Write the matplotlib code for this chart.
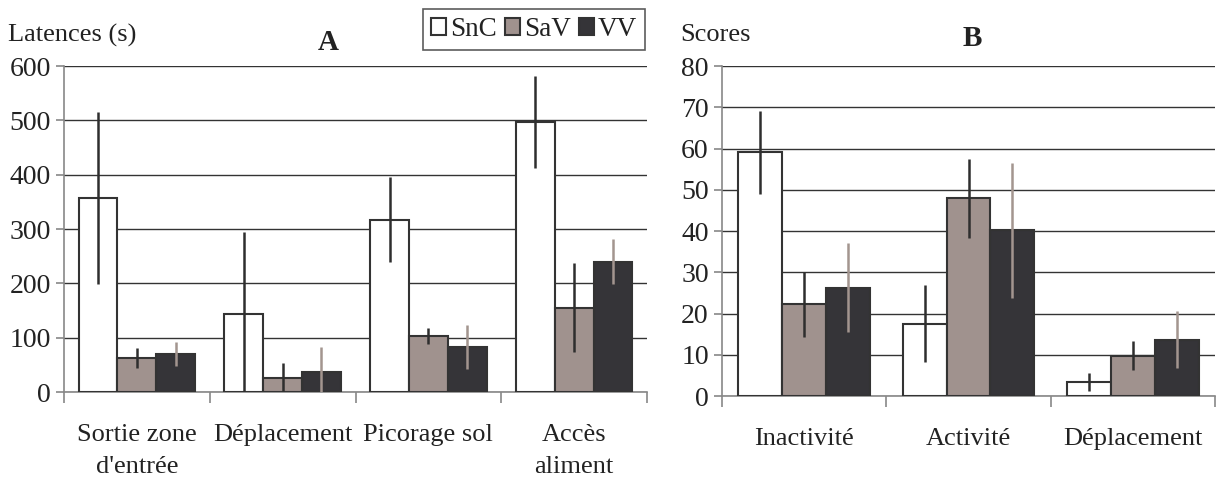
import numpy as np
import matplotlib.pyplot as plt

plt.rcParams['font.family'] = ['Liberation Serif', 'DejaVu Serif']

groups = ["SnC", "SaV", "VV"]

# panel A : latences (s)
cats_a = ["Sortie zone\nd'entrée", "Déplacement", "Picorage sol", "Accès\naliment"]
snc_a = [357, 144, 317, 497]
sav_a = [63, 26, 103, 155]
vv_a = [70, 37, 83, 240]
snc_a_err = [159, 150, 78, 85]
sav_a_err = [18, 27, 14, 82]
vv_a_err = [22, 46, 40, 42]

# panel B : scores
cats_b = ["Inactivité", "Activité", "Déplacement"]
snc_b = [59.1, 17.5, 3.4]
sav_b = [22.2, 47.9, 9.8]
vv_b = [26.3, 40.2, 13.6]
snc_b_err = [10.1, 9.3, 2.1]
sav_b_err = [7.9, 9.5, 3.5]
vv_b_err = [10.9, 16.4, 6.9]

fills = ['white', '#a0928e', '#353438']
err_cols = ['#2e2e2e', '#2e2e2e', '#a3958f']
edge = '#333333'
txt = '#222222'
w = 0.8 / 3

W, H = 1216, 478
fig = plt.figure(figsize=(W / 100, H / 100), dpi=100)
axA = fig.add_axes([64 / W, 1 - 392 / H, 583 / W, 326 / H])
axB = fig.add_axes([722 / W, 1 - 396 / H, 493 / W, 330 / H])


def draw(ax, cats, vals, errs, ymax, step):
    x = np.arange(len(cats))
    handles = []
    for i, (v, e) in enumerate(zip(vals, errs)):
        b = ax.bar(x + (i - 1) * w, v, w, color=fills[i], edgecolor=edge, linewidth=1.5,
                   yerr=e, error_kw=dict(ecolor=err_cols[i], elinewidth=1.8, capsize=0),
                   label=groups[i], zorder=3)
        handles.append(b)
    ax.set_xlim(-0.5, len(cats) - 0.5)
    ax.set_ylim(0, ymax)
    ax.set_yticks(np.arange(0, ymax + 1, step))
    ax.yaxis.grid(True, color='#333333', linewidth=1)
    ax.set_axisbelow(True)
    ax.set_xticks(np.arange(len(cats) + 1) - 0.5)
    ax.set_xticklabels([])
    ax.set_xticks(x, cats, minor=True)
    ax.tick_params(axis='x', which='major', length=8, color='#888888', width=1.2)
    ax.tick_params(axis='x', which='minor', length=0, pad=23, labelsize=19, labelcolor=txt)
    ax.tick_params(axis='y', length=6, color='#888888', width=1.2, labelsize=20, labelcolor=txt)
    for s in ['top', 'right']:
        ax.spines[s].set_visible(False)
    for s in ['left', 'bottom']:
        ax.spines[s].set_color('#888888')
        ax.spines[s].set_linewidth(1.2)
    for lab in ax.get_xticklabels(minor=True):
        lab.set_linespacing(1.6)
        lab.set_verticalalignment('top')
    return handles


hA = draw(axA, cats_a, [snc_a, sav_a, vv_a], [snc_a_err, sav_a_err, vv_a_err], 600, 100)
draw(axB, cats_b, [snc_b, sav_b, vv_b], [snc_b_err, sav_b_err, vv_b_err], 80, 10)

fig.text(8 / W, 1 - 35 / H, "Latences (s)", fontsize=19, color=txt, va='center')
fig.text(328 / W, 1 - 42 / H, "A", fontsize=21, fontweight='bold', color=txt, ha='center', va='center')
fig.text(680 / W, 1 - 35 / H, "Scores", fontsize=19, color=txt, va='center')
fig.text(972 / W, 1 - 38 / H, "B", fontsize=21, fontweight='bold', color=txt, ha='center', va='center')

leg = fig.legend(handles=hA, labels=groups, loc='upper right', bbox_to_anchor=(645 / W, 1 - 9 / H),
                 ncol=3, fontsize=19.5, frameon=True, fancybox=False, handlelength=0.55,
                 handleheight=0.55, handletextpad=0.15, columnspacing=0.3, borderpad=0.3,
                 borderaxespad=0)
leg.get_frame().set_edgecolor('#333333')
leg.get_frame().set_linewidth(1.2)
for t in leg.get_texts():
    t.set_color(txt)

fig.savefig("out.png", dpi=100)
